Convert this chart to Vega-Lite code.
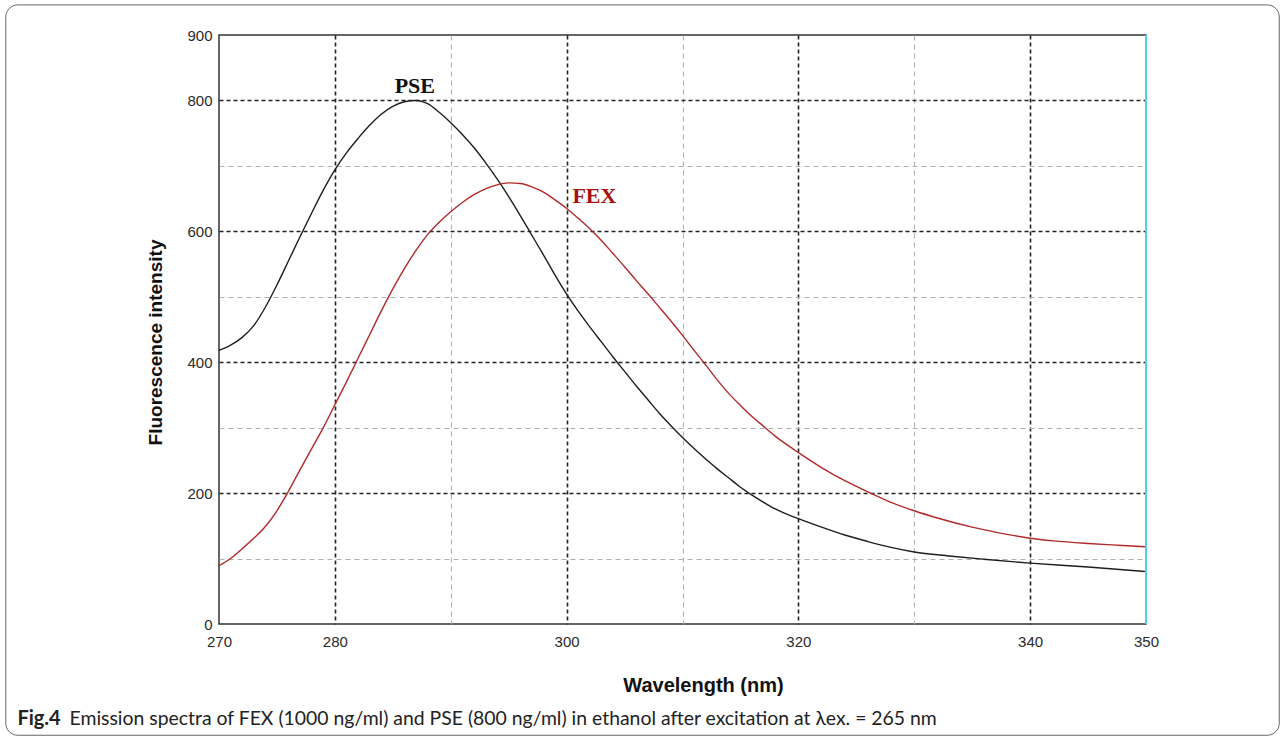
{
  "$schema": "https://vega.github.io/schema/vega-lite/v6.json",
  "width": 927,
  "height": 589,
  "autosize": {"type": "none"},
  "padding": {"left": 219, "top": 35, "right": 138, "bottom": 116},
  "background": "white",
  "config": {"view": {"stroke": "#333", "strokeWidth": 1.5}, "font": "Liberation Sans"},
  "datasets": {
    "spectra": [
      {"wl": 270, "intensity": 418, "series": "PSE"}, {"wl": 271, "intensity": 426, "series": "PSE"},
      {"wl": 272, "intensity": 438, "series": "PSE"}, {"wl": 273, "intensity": 456, "series": "PSE"},
      {"wl": 274, "intensity": 484, "series": "PSE"}, {"wl": 275, "intensity": 518, "series": "PSE"},
      {"wl": 276, "intensity": 555, "series": "PSE"}, {"wl": 277, "intensity": 592, "series": "PSE"},
      {"wl": 278, "intensity": 628, "series": "PSE"}, {"wl": 279, "intensity": 663, "series": "PSE"},
      {"wl": 280, "intensity": 694, "series": "PSE"}, {"wl": 281, "intensity": 720, "series": "PSE"},
      {"wl": 282, "intensity": 742, "series": "PSE"}, {"wl": 283, "intensity": 762, "series": "PSE"},
      {"wl": 284, "intensity": 779, "series": "PSE"}, {"wl": 285, "intensity": 791, "series": "PSE"},
      {"wl": 286, "intensity": 798, "series": "PSE"}, {"wl": 287, "intensity": 800, "series": "PSE"},
      {"wl": 288, "intensity": 795, "series": "PSE"}, {"wl": 289, "intensity": 782, "series": "PSE"},
      {"wl": 290, "intensity": 766, "series": "PSE"}, {"wl": 291, "intensity": 748, "series": "PSE"},
      {"wl": 292, "intensity": 728, "series": "PSE"}, {"wl": 293, "intensity": 705, "series": "PSE"},
      {"wl": 294, "intensity": 680, "series": "PSE"}, {"wl": 295, "intensity": 653, "series": "PSE"},
      {"wl": 296, "intensity": 624, "series": "PSE"}, {"wl": 297, "intensity": 594, "series": "PSE"},
      {"wl": 298, "intensity": 564, "series": "PSE"}, {"wl": 299, "intensity": 533, "series": "PSE"},
      {"wl": 300, "intensity": 504, "series": "PSE"}, {"wl": 301, "intensity": 478, "series": "PSE"},
      {"wl": 302, "intensity": 454, "series": "PSE"}, {"wl": 303, "intensity": 431, "series": "PSE"},
      {"wl": 304, "intensity": 408, "series": "PSE"}, {"wl": 305, "intensity": 386, "series": "PSE"},
      {"wl": 306, "intensity": 364, "series": "PSE"}, {"wl": 307, "intensity": 343, "series": "PSE"},
      {"wl": 308, "intensity": 322, "series": "PSE"}, {"wl": 309, "intensity": 303, "series": "PSE"},
      {"wl": 310, "intensity": 285, "series": "PSE"}, {"wl": 311, "intensity": 268, "series": "PSE"},
      {"wl": 312, "intensity": 252, "series": "PSE"}, {"wl": 313, "intensity": 237, "series": "PSE"},
      {"wl": 314, "intensity": 223, "series": "PSE"}, {"wl": 315, "intensity": 209, "series": "PSE"},
      {"wl": 316, "intensity": 197, "series": "PSE"}, {"wl": 317, "intensity": 186, "series": "PSE"},
      {"wl": 318, "intensity": 176, "series": "PSE"}, {"wl": 319, "intensity": 168, "series": "PSE"},
      {"wl": 320, "intensity": 161, "series": "PSE"}, {"wl": 322, "intensity": 148, "series": "PSE"},
      {"wl": 324, "intensity": 136, "series": "PSE"}, {"wl": 326, "intensity": 126, "series": "PSE"},
      {"wl": 328, "intensity": 117, "series": "PSE"}, {"wl": 330, "intensity": 110, "series": "PSE"},
      {"wl": 333, "intensity": 104, "series": "PSE"}, {"wl": 336, "intensity": 99, "series": "PSE"},
      {"wl": 340, "intensity": 93, "series": "PSE"}, {"wl": 345, "intensity": 87, "series": "PSE"},
      {"wl": 350, "intensity": 80, "series": "PSE"},
      {"wl": 270, "intensity": 89, "series": "FEX"}, {"wl": 271, "intensity": 100, "series": "FEX"},
      {"wl": 272, "intensity": 115, "series": "FEX"}, {"wl": 273, "intensity": 131, "series": "FEX"},
      {"wl": 274, "intensity": 149, "series": "FEX"}, {"wl": 275, "intensity": 173, "series": "FEX"},
      {"wl": 276, "intensity": 203, "series": "FEX"}, {"wl": 277, "intensity": 236, "series": "FEX"},
      {"wl": 278, "intensity": 268, "series": "FEX"}, {"wl": 279, "intensity": 300, "series": "FEX"},
      {"wl": 280, "intensity": 335, "series": "FEX"}, {"wl": 281, "intensity": 370, "series": "FEX"},
      {"wl": 282, "intensity": 406, "series": "FEX"}, {"wl": 283, "intensity": 442, "series": "FEX"},
      {"wl": 284, "intensity": 478, "series": "FEX"}, {"wl": 285, "intensity": 512, "series": "FEX"},
      {"wl": 286, "intensity": 543, "series": "FEX"}, {"wl": 287, "intensity": 571, "series": "FEX"},
      {"wl": 288, "intensity": 595, "series": "FEX"}, {"wl": 289, "intensity": 614, "series": "FEX"},
      {"wl": 290, "intensity": 630, "series": "FEX"}, {"wl": 291, "intensity": 644, "series": "FEX"},
      {"wl": 292, "intensity": 656, "series": "FEX"}, {"wl": 293, "intensity": 665, "series": "FEX"},
      {"wl": 294, "intensity": 671, "series": "FEX"}, {"wl": 295, "intensity": 674, "series": "FEX"},
      {"wl": 296, "intensity": 673, "series": "FEX"}, {"wl": 297, "intensity": 668, "series": "FEX"},
      {"wl": 298, "intensity": 660, "series": "FEX"}, {"wl": 299, "intensity": 648, "series": "FEX"},
      {"wl": 300, "intensity": 635, "series": "FEX"}, {"wl": 301, "intensity": 620, "series": "FEX"},
      {"wl": 302, "intensity": 604, "series": "FEX"}, {"wl": 303, "intensity": 586, "series": "FEX"},
      {"wl": 304, "intensity": 566, "series": "FEX"}, {"wl": 305, "intensity": 546, "series": "FEX"},
      {"wl": 306, "intensity": 525, "series": "FEX"}, {"wl": 307, "intensity": 505, "series": "FEX"},
      {"wl": 308, "intensity": 484, "series": "FEX"}, {"wl": 309, "intensity": 463, "series": "FEX"},
      {"wl": 310, "intensity": 441, "series": "FEX"}, {"wl": 311, "intensity": 418, "series": "FEX"},
      {"wl": 312, "intensity": 396, "series": "FEX"}, {"wl": 313, "intensity": 373, "series": "FEX"},
      {"wl": 314, "intensity": 352, "series": "FEX"}, {"wl": 315, "intensity": 334, "series": "FEX"},
      {"wl": 316, "intensity": 317, "series": "FEX"}, {"wl": 317, "intensity": 302, "series": "FEX"},
      {"wl": 318, "intensity": 287, "series": "FEX"}, {"wl": 319, "intensity": 274, "series": "FEX"},
      {"wl": 320, "intensity": 262, "series": "FEX"}, {"wl": 322, "intensity": 239, "series": "FEX"},
      {"wl": 324, "intensity": 219, "series": "FEX"}, {"wl": 326, "intensity": 202, "series": "FEX"},
      {"wl": 328, "intensity": 186, "series": "FEX"}, {"wl": 330, "intensity": 173, "series": "FEX"},
      {"wl": 332, "intensity": 162, "series": "FEX"}, {"wl": 335, "intensity": 148, "series": "FEX"},
      {"wl": 338, "intensity": 137, "series": "FEX"}, {"wl": 340, "intensity": 131, "series": "FEX"},
      {"wl": 342, "intensity": 127, "series": "FEX"}, {"wl": 345, "intensity": 123, "series": "FEX"},
      {"wl": 348, "intensity": 120, "series": "FEX"}, {"wl": 350, "intensity": 118, "series": "FEX"}
    ],
    "one": [{}]
  },
  "layer": [
    {
      "data": {"name": "spectra"},
      "mark": {"type": "line", "strokeWidth": 1.4, "interpolate": "monotone"},
      "encoding": {
        "x": {
          "field": "wl", "type": "quantitative",
          "scale": {"domain": [270, 350], "nice": false, "zero": false},
          "axis": {
            "values": [270, 280, 290, 300, 310, 320, 330, 340, 350],
            "labelExpr": "indexof([290, 310, 330], datum.value) >= 0 ? '' : datum.label",
            "labelFlush": false,
            "grid": true,
            "gridColor": {"condition": {"test": "datum.value % 20 == 0", "value": "#222"}, "value": "#b0b0b0"},
            "gridDash": {"condition": {"test": "datum.value % 20 == 0", "value": [4, 3]}, "value": [5, 4]},
            "gridWidth": {"condition": {"test": "datum.value % 20 == 0", "value": 1.6}, "value": 1.1},
            "gridOpacity": {"condition": {"test": "datum.value == 270 || datum.value == 350", "value": 0}, "value": 1},
            "ticks": false, "domain": false,
            "labelFontSize": 15, "labelColor": "#2a2a2a", "labelPadding": 10,
            "title": "Wavelength (nm)", "titleFontSize": 20, "titleFontWeight": "bold", "titleColor": "#111",
            "titleX": 484, "titleY": 61, "titleBaseline": "middle"
          }
        },
        "y": {
          "field": "intensity", "type": "quantitative",
          "scale": {"domain": [0, 900], "nice": false},
          "axis": {
            "values": [0, 100, 200, 300, 400, 500, 600, 700, 800, 900],
            "labelExpr": "(datum.value % 200 == 100 && datum.value != 900) ? '' : datum.label",
            "labelFlush": false,
            "grid": true,
            "gridColor": {"condition": {"test": "datum.value % 200 == 0", "value": "#222"}, "value": "#b0b0b0"},
            "gridDash": {"condition": {"test": "datum.value % 200 == 0", "value": [4, 3]}, "value": [5, 4]},
            "gridWidth": {"condition": {"test": "datum.value % 200 == 0", "value": 1.6}, "value": 1.1},
            "gridOpacity": {"condition": {"test": "datum.value == 0 || datum.value == 900", "value": 0}, "value": 1},
            "ticks": false, "domain": false,
            "labelFontSize": 15, "labelColor": "#2a2a2a", "labelPadding": 7,
            "title": "Fluorescence intensity", "titleFontSize": 19, "titleFontWeight": "bold", "titleColor": "#111",
            "titleX": -64, "titleY": 307, "titleBaseline": "middle", "titleAngle": -90
          }
        },
        "color": {
          "field": "series", "type": "nominal",
          "scale": {"domain": ["PSE", "FEX"], "range": ["#1e1e1e", "#b02a2a"]},
          "legend": null
        }
      }
    },
    {
      "data": {"name": "one"},
      "mark": {"type": "rect", "filled": false, "fill": null, "stroke": "#666", "strokeWidth": 1, "cornerRadius": 12, "clip": false},
      "encoding": {
        "x": {"datum": 251.6, "type": "quantitative"},
        "x2": {"datum": 361.5},
        "y": {"datum": 946, "type": "quantitative"},
        "y2": {"datum": -170}
      }
    },
    {
      "data": {"name": "one"},
      "mark": {"type": "rule", "color": "#4fd3e0", "strokeWidth": 2},
      "encoding": {
        "x": {"datum": 350, "type": "quantitative"},
        "y": {"datum": 0, "type": "quantitative"},
        "y2": {"datum": 900}
      }
    },
    {
      "data": {"name": "one"},
      "mark": {"type": "text", "text": "PSE", "font": "Liberation Serif", "fontWeight": "bold", "fontSize": 22, "color": "#111", "align": "center", "baseline": "middle"},
      "encoding": {
        "x": {"datum": 286.9, "type": "quantitative"},
        "y": {"datum": 822, "type": "quantitative"}
      }
    },
    {
      "data": {"name": "one"},
      "mark": {"type": "text", "text": "FEX", "font": "Liberation Serif", "fontWeight": "bold", "fontSize": 22, "color": "#a80f0f", "align": "center", "baseline": "middle"},
      "encoding": {
        "x": {"datum": 302.4, "type": "quantitative"},
        "y": {"datum": 654, "type": "quantitative"}
      }
    },
    {
      "data": {"name": "one"},
      "mark": {"type": "text", "text": "Fig.4", "font": "Lato", "fontWeight": "bold", "fontSize": 20, "color": "#222", "align": "left", "baseline": "middle", "clip": false},
      "encoding": {
        "x": {"datum": 252.6, "type": "quantitative"},
        "y": {"datum": -145, "type": "quantitative"}
      }
    },
    {
      "data": {"name": "one"},
      "mark": {"type": "text", "text": "Emission spectra of FEX (1000 ng/ml) and PSE (800 ng/ml) in ethanol after excitation at λex. = 265 nm", "font": "Lato", "fontSize": 19.4, "color": "#222", "align": "left", "baseline": "middle", "clip": false},
      "encoding": {
        "x": {"datum": 257.1, "type": "quantitative"},
        "y": {"datum": -145, "type": "quantitative"}
      }
    }
  ]
}
